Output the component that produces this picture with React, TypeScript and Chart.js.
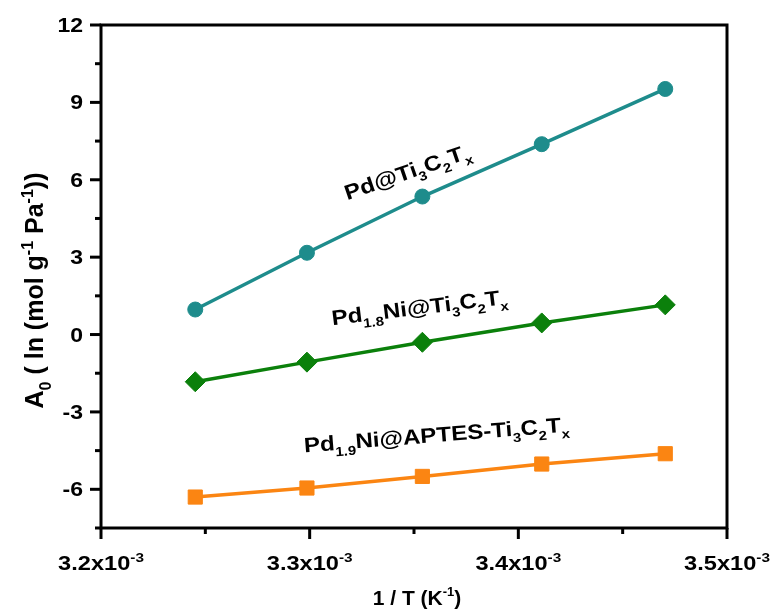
import { useEffect, useRef } from "react";
import { Chart, registerables } from "chart.js";

Chart.register(...registerables);

// 1/T for 35, 30, 25, 20 and 15 °C
const invT = [1 / 308.15, 1 / 303.15, 1 / 298.15, 1 / 293.15, 1 / 288.15];
const pdTi = [0.97, 3.17, 5.35, 7.38, 9.52];
const pd18NiTi = [-1.83, -1.07, -0.3, 0.45, 1.15];
const pd19NiAptes = [-6.3, -5.95, -5.5, -5.02, -4.62];

const xMajorTicks = [3.2e-3, 3.3e-3, 3.4e-3, 3.5e-3];
const xMinorTicks = [3.25e-3, 3.35e-3, 3.45e-3];
const xTickMantissa = ["3.2", "3.3", "3.4", "3.5"];
const yMajorTicks = [-6, -3, 0, 3, 6, 9, 12];
const yMinorTicks = [-7.5, -4.5, -1.5, 1.5, 4.5, 7.5, 10.5];

const FONT = '"Liberation Sans", Arial, Helvetica, sans-serif';

// text runs: 0 = normal, 1 = subscript, 2 = superscript
type Seg = [string, number];

const seriesLabels: { segs: Seg[]; x: number; y: number; angle: number }[] = [
  {
    segs: [["Pd@Ti", 0], ["3", 1], ["C", 0], ["2", 1], ["T", 0], ["x", 1]],
    x: 3.318e-3,
    y: 5.21,
    angle: -19,
  },
  {
    segs: [["Pd", 0], ["1.8", 1], ["Ni@Ti", 0], ["3", 1], ["C", 0], ["2", 1], ["T", 0], ["x", 1]],
    x: 3.3109e-3,
    y: 0.36,
    angle: -7,
  },
  {
    segs: [["Pd", 0], ["1.9", 1], ["Ni@APTES-Ti", 0], ["3", 1], ["C", 0], ["2", 1], ["T", 0], ["x", 1]],
    x: 3.2975e-3,
    y: -4.57,
    angle: -4.5,
  },
];

function drawRich(
  ctx: CanvasRenderingContext2D,
  segs: Seg[],
  x: number,
  y: number,
  size: number,
  align: "left" | "center" | "right",
  sx = 1
) {
  ctx.save();
  ctx.translate(x, y);
  ctx.scale(sx, 1);
  ctx.textAlign = "left";
  ctx.textBaseline = "alphabetic";
  ctx.fillStyle = "#000";
  const fontFor = (k: number) => `bold ${k ? Math.round(size * 0.64) : size}px ${FONT}`;
  const widths = segs.map(([t, k]) => {
    ctx.font = fontFor(k);
    return ctx.measureText(t).width;
  });
  const total = widths.reduce((a, b) => a + b, 0);
  let cx = align === "left" ? 0 : align === "center" ? -total / 2 : -total;
  segs.forEach(([t, k], i) => {
    ctx.font = fontFor(k);
    const dy = k === 1 ? size * 0.3 : k === 2 ? -size * 0.42 : 0;
    ctx.fillText(t, cx, dy);
    cx += widths[i];
  });
  ctx.restore();
}

const framePlugin = {
  id: "frame",
  afterDatasetsDraw(chart: any) {
    const { ctx, chartArea: a, scales } = chart;
    const xs = scales.x;
    const ys = scales.y;
    ctx.save();
    ctx.strokeStyle = "#000";
    ctx.lineWidth = 3;
    ctx.lineCap = "butt";
    ctx.strokeRect(a.left, a.top, a.right - a.left, a.bottom - a.top);

    const tick = (x1: number, y1: number, x2: number, y2: number) => {
      ctx.beginPath();
      ctx.moveTo(x1, y1);
      ctx.lineTo(x2, y2);
      ctx.stroke();
    };
    xMajorTicks.forEach((v) => {
      const px = xs.getPixelForValue(v);
      tick(px, a.bottom, px, a.bottom + 11);
    });
    xMinorTicks.forEach((v) => {
      const px = xs.getPixelForValue(v);
      tick(px, a.bottom, px, a.bottom + 6);
    });
    yMajorTicks.forEach((v) => {
      const py = ys.getPixelForValue(v);
      tick(a.left, py, a.left - 11, py);
    });
    yMinorTicks.forEach((v) => {
      const py = ys.getPixelForValue(v);
      tick(a.left, py, a.left - 6, py);
    });
    ctx.restore();

    // tick labels
    xMajorTicks.forEach((v, i) => {
      drawRich(
        ctx,
        [[xTickMantissa[i] + "x10", 0], ["-3", 2]],
        xs.getPixelForValue(v),
        a.bottom + 42,
        20,
        "center",
        1.18
      );
    });
    yMajorTicks.forEach((v) => {
      drawRich(ctx, [[String(v), 0]], a.left - 18, ys.getPixelForValue(v) + 7, 20, "right", 1.15);
    });

    // axis titles
    drawRich(
      ctx,
      [["1 / T (K", 0], ["-1", 2], [")", 0]],
      (a.left + a.right) / 2 + 3,
      a.bottom + 77,
      21,
      "center"
    );
    ctx.save();
    ctx.translate(a.left - 58, (a.top + a.bottom) / 2 + 14);
    ctx.rotate(-Math.PI / 2);
    drawRich(
      ctx,
      [["A", 0], ["0", 1], [" ( ln (mol g", 0], ["-1", 2], [" Pa", 0], ["-1", 2], ["))", 0]],
      0,
      0,
      25,
      "center"
    );
    ctx.restore();

    // series annotations
    seriesLabels.forEach((l) => {
      ctx.save();
      ctx.translate(xs.getPixelForValue(l.x), ys.getPixelForValue(l.y));
      ctx.rotate((l.angle * Math.PI) / 180);
      drawRich(ctx, l.segs, 0, 0, 21, "left", 1.15);
      ctx.restore();
    });
  },
};

function toPoints(ys: number[]) {
  return invT.map((x, i) => ({ x, y: ys[i] }));
}

export default function App() {
  const ref = useRef<HTMLCanvasElement | null>(null);

  useEffect(() => {
    if (!ref.current) return;
    const series = [
      { label: "Pd@Ti3C2Tx", data: pdTi, color: "#1e8c8c", style: "circle", r: 7.5 },
      { label: "Pd1.8Ni@Ti3C2Tx", data: pd18NiTi, color: "#0b800b", style: "rectRot", r: 10 },
      { label: "Pd1.9Ni@APTES-Ti3C2Tx", data: pd19NiAptes, color: "#fb8512", style: "rect", r: 10 },
    ];
    const chart = new Chart(ref.current, {
      type: "scatter",
      data: {
        datasets: series.map((s) => ({
          label: s.label,
          data: toPoints(s.data),
          showLine: true,
          borderColor: s.color,
          backgroundColor: s.color,
          borderWidth: 3.5,
          pointStyle: s.style as any,
          pointRadius: s.r,
          pointHoverRadius: s.r,
          pointBackgroundColor: s.color,
          pointBorderColor: s.color,
          pointBorderWidth: 1,
          clip: false as any,
        })),
      },
      options: {
        animation: false,
        responsive: false,
        devicePixelRatio: 1,
        layout: { padding: { left: 101, right: 47, top: 25, bottom: 85 } },
        plugins: {
          legend: { display: false },
          tooltip: { enabled: false },
        },
        events: [],
        scales: {
          x: { type: "linear", display: false, min: 3.2e-3, max: 3.5e-3 },
          y: { type: "linear", display: false, min: -7.5, max: 12 },
        },
      },
      plugins: [framePlugin],
    });
    return () => chart.destroy();
  }, []);

  return (
    <div style={{ position: "fixed", left: 0, top: 0, width: 774, height: 613, background: "#fff" }}>
      <canvas ref={ref} width={774} height={613} style={{ display: "block", width: 774, height: 613 }} />
    </div>
  );
}
